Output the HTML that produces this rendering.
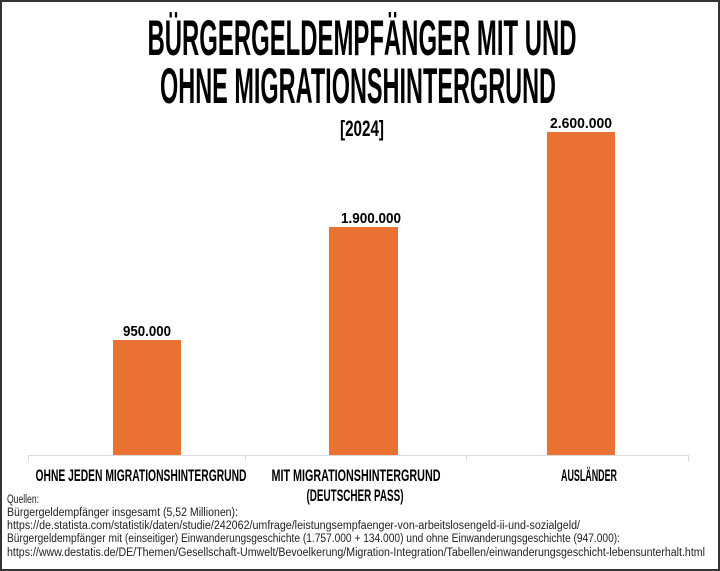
<!DOCTYPE html>
<html><head><meta charset="utf-8"><style>
html,body{margin:0;padding:0;background:#fff}
svg{display:block}
.t{font-family:"Liberation Sans Narrow","Liberation Sans",sans-serif;font-weight:bold;fill:#000}
.s{font-family:"Liberation Sans Narrow","Liberation Sans",sans-serif;fill:#222;font-size:11.5px}
</style></head><body>
<svg width="720" height="571" viewBox="0 0 720 571" xmlns="http://www.w3.org/2000/svg">
<rect x="1" y="1" width="718" height="569" fill="#fff" stroke="#333" stroke-width="2"/>
<text class="t" x="362" y="55" font-size="50" text-anchor="middle" textLength="429" lengthAdjust="spacingAndGlyphs">BÜRGERGELDEMPFÄNGER MIT UND</text>
<text class="t" x="358" y="103" font-size="50" text-anchor="middle" textLength="396" lengthAdjust="spacingAndGlyphs">OHNE MIGRATIONSHINTERGRUND</text>
<text class="t" x="362" y="136" font-size="22" text-anchor="middle" textLength="44" lengthAdjust="spacingAndGlyphs">[2024]</text>
<rect x="113" y="340" width="68" height="115" fill="#E97132"/>
<rect x="329" y="227" width="69" height="228" fill="#E97132"/>
<rect x="547" y="132" width="68" height="323" fill="#E97132"/>
<line x1="28" y1="455.5" x2="688" y2="455.5" stroke="#d9d9d9" stroke-width="1"/>
<g stroke="#d9d9d9"><line x1="28.5" y1="455" x2="28.5" y2="461"/><line x1="245.5" y1="455" x2="245.5" y2="461"/><line x1="466.5" y1="455" x2="466.5" y2="461"/><line x1="688.5" y1="455" x2="688.5" y2="461"/></g>
<text class="t" x="147" y="336" font-size="15" text-anchor="middle" textLength="48" lengthAdjust="spacingAndGlyphs">950.000</text>
<text class="t" x="371" y="223" font-size="15" text-anchor="middle" textLength="60" lengthAdjust="spacingAndGlyphs">1.900.000</text>
<text class="t" x="581" y="128" font-size="15" text-anchor="middle" textLength="62" lengthAdjust="spacingAndGlyphs">2.600.000</text>
<text class="t" x="141" y="481" font-size="17" text-anchor="middle" textLength="211" lengthAdjust="spacingAndGlyphs">OHNE JEDEN MIGRATIONSHINTERGRUND</text>
<text class="t" x="356" y="481" font-size="17" text-anchor="middle" textLength="169" lengthAdjust="spacingAndGlyphs">MIT MIGRATIONSHINTERGRUND</text>
<text class="t" x="355" y="501" font-size="17" text-anchor="middle" textLength="97" lengthAdjust="spacingAndGlyphs">(DEUTSCHER PASS)</text>
<text class="t" x="589" y="481" font-size="17" text-anchor="middle" textLength="56" lengthAdjust="spacingAndGlyphs">AUSLÄNDER</text>
<text class="s" x="7" y="503" textLength="32" lengthAdjust="spacingAndGlyphs">Quellen:</text>
<text class="s" x="7" y="516" textLength="231" lengthAdjust="spacingAndGlyphs">Bürgergeldempfänger insgesamt (5,52 Millionen):</text>
<text class="s" x="7" y="529" textLength="573" lengthAdjust="spacingAndGlyphs">https://de.statista.com/statistik/daten/studie/242062/umfrage/leistungsempfaenger-von-arbeitslosengeld-ii-und-sozialgeld/</text>
<text class="s" x="7" y="542" textLength="613" lengthAdjust="spacingAndGlyphs">Bürgergeldempfänger mit (einseitiger) Einwanderungsgeschichte (1.757.000 + 134.000) und ohne Einwanderungsgeschichte (947.000):</text>
<text class="s" x="7" y="556" textLength="698" lengthAdjust="spacingAndGlyphs">https://www.destatis.de/DE/Themen/Gesellschaft-Umwelt/Bevoelkerung/Migration-Integration/Tabellen/einwanderungsgeschicht-lebensunterhalt.html</text>
</svg>
</body></html>
